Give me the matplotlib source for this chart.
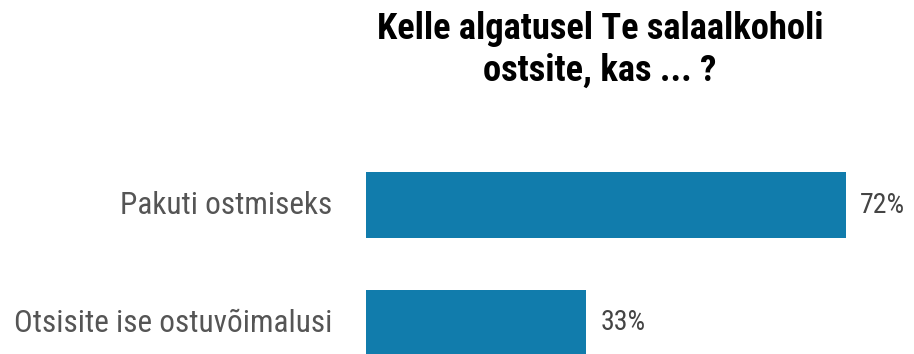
import matplotlib
matplotlib.use("Agg")
import matplotlib.pyplot as plt

# survey answers, top to bottom
categories = ["Pakuti ostmiseks", "Otsisite ise ostuvõimalusi"]
shares = [72, 33]
title = "Kelle algatusel Te salaalkoholi\nostsite, kas ... ?"

BAR_COLOR = "#117cac"
FONT = "Roboto Condensed"

fig = plt.figure(figsize=(9.14, 3.54), dpi=100)
ax = fig.add_axes([366 / 914, 0, 548 / 914, 1])

pos = list(range(len(categories)))
ax.barh(pos, shares, height=0.56, color=BAR_COLOR)
ax.set_xlim(0, 548 / 6.66)
ax.set_ylim(354 / 118 - 205 / 118, -205 / 118)
ax.axis("off")

for y, name, v in zip(pos, categories, shares):
    ax.text(-5.0, y, name, ha="right", va="center",
            fontsize=22.5, color="#555555", family=FONT, clip_on=False)
    ax.text(v + 2.2, y, "%d%%" % v, ha="left", va="center",
            fontsize=20, color="#444444", family=FONT)

fig.text(600 / 914, 1 - 50 / 354, title, ha="center", va="center",
         fontsize=26.3, fontweight="bold", family=FONT, color="black",
         linespacing=1.23)

fig.savefig("out.png", dpi=100)
